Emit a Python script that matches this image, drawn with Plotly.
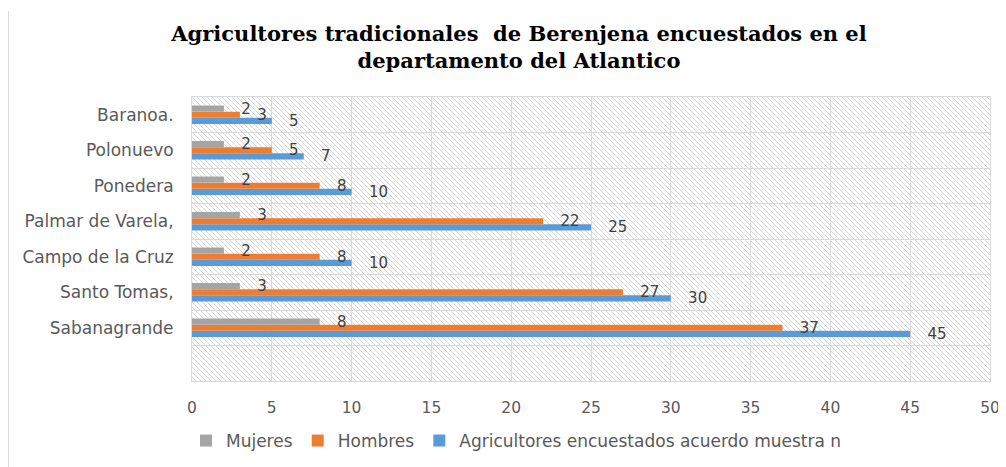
import base64
import plotly.graph_objects as go

categories = ["Sabanagrande", "Santo Tomas,", "Campo de la Cruz", "Palmar de Varela,",
              "Ponedera", "Polonuevo", "Baranoa."]
mujeres = [8, 3, 2, 3, 2, 2, 2]
hombres = [37, 27, 8, 22, 8, 5, 3]
agricultores = [45, 30, 10, 25, 10, 7, 5]
x_ticks = [0, 5, 10, 15, 20, 25, 30, 35, 40, 45, 50]

title_text = "<b>Agricultores tradicionales  de Berenjena encuestados en el<br>departamento del Atlantico</b>"

# page body has an 8px margin, so the figure is sized to fit the window
W, H = 998, 459
ML, MR, MT, MB = 184, 16, 89, 86
PW, PH = W - ML - MR, H - MT - MB

svg = (
    f'<svg xmlns="http://www.w3.org/2000/svg" width="{PW}" height="{PH}">'
    '<defs><pattern id="h" patternUnits="userSpaceOnUse" width="5" height="5">'
    '<path d="M-1,-1 L6,6 M-1,4 L1,6 M4,-1 L6,1" stroke="#d3d3d3" stroke-width="0.9"/>'
    '</pattern></defs>'
    f'<rect width="{PW}" height="{PH}" fill="white"/>'
    f'<rect width="{PW}" height="{PH}" fill="url(#h)"/></svg>'
)
svg_uri = "data:image/svg+xml;base64," + base64.b64encode(svg.encode()).decode()

fig = go.Figure()
series = [
    ("Agricultores encuestados acuerdo muestra n", agricultores, "#5b9bd5"),
    ("Hombres", hombres, "#ed7d31"),
    ("Mujeres", mujeres, "#a5a5a5"),
]
for name, vals, color in series:
    fig.add_trace(go.Bar(
        y=categories, x=vals, name=name, orientation="h",
        marker=dict(color=color, line=dict(width=0)),
        text=vals, texttemplate="\u00a0\u00a0\u00a0%{x}",
        textposition="outside", constraintext="none", cliponaxis=False,
        textfont=dict(family="DejaVu Sans", size=15, color="#404040"),
    ))

fig.update_layout(
    width=W, height=H,
    margin=dict(l=ML, r=MR, t=MT, b=MB, pad=0, autoexpand=False),
    paper_bgcolor="white", plot_bgcolor="rgba(0,0,0,0)",
    barmode="group", bargap=0.48, bargroupgap=0,
    title=dict(text=title_text, x=511 / W, xref="container", xanchor="center",
               y=1 - 33 / H, yref="container", yanchor="top",
               font=dict(family="DejaVu Serif", size=21, color="#000000")),
    xaxis=dict(range=[0, 50], tickvals=x_ticks, showgrid=True, gridcolor="#d9d9d9",
               gridwidth=1, zeroline=False, showline=True, linecolor="#d9d9d9", mirror=True,
               ticks="", ticklabelstandoff=12, automargin=False,
               tickfont=dict(family="DejaVu Sans", size=15.5, color="#595959")),
    yaxis=dict(type="category", categoryorder="array", categoryarray=categories,
               range=[-1.5, 6.5], tickson="boundaries", showgrid=True, gridcolor="#d9d9d9",
               gridwidth=1, showline=True, linecolor="#d9d9d9", mirror=True, ticks="",
               ticklabelstandoff=14, automargin=False,
               tickfont=dict(family="DejaVu Sans", size=17, color="#595959")),
    legend=dict(orientation="h", traceorder="reversed", x=-6 / PW, xanchor="left",
                y=-60 / PH, yanchor="middle",
                font=dict(family="DejaVu Sans", size=17, color="#595959"),
                itemwidth=30),
    showlegend=True,
    images=[dict(source=svg_uri, xref="paper", yref="paper", x=0, y=1,
                 sizex=1, sizey=1, sizing="stretch", layer="below",
                 xanchor="left", yanchor="top")],
    shapes=[dict(type="line", xref="paper", yref="paper",
                 x0=(0.5 - ML) / PW, x1=(0.5 - ML) / PW,
                 y0=-(MB) / PH, y1=1 + (MT - 3) / PH,
                 line=dict(color="#d9d9d9", width=1))],
)

fig.write_html("out.html")
